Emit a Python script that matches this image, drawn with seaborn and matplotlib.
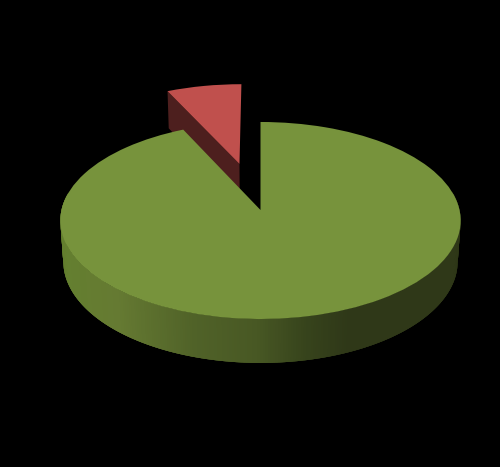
import numpy as np
import matplotlib
matplotlib.use("Agg")
import matplotlib.pyplot as plt
from matplotlib.transforms import Transform
from matplotlib.colors import to_rgb
import seaborn as sns

shares = [93, 7]
explode = [0, 0.51]
top_colors = ["#77933C", "#C0504D"]
cut_color = "#4D1F1E"
rim_positions = [-1.0, -0.66, -0.30, -0.02, 0.20, 0.40, 1.0]
rim_colors = ["#64802F", "#657A32", "#506228", "#485824", "#37441C", "#2F3818", "#2F3818"]

A, B, C, D, E = 97.4, 0.1066, 199.0, 41.5, 0.015


def project(x, y, z=0.0):
    w = 1 + B * y + E * z
    return C * x / w, (A * y - D * z) / w


class Perspective(Transform):
    input_dims = output_dims = 2
    is_separable = False
    has_inverse = False

    def transform_non_affine(self, values):
        values = np.asarray(values, dtype=float)
        px, py = project(values[:, 0], values[:, 1])
        return np.column_stack([px, py])


sns.set_theme(style="dark", rc={"figure.facecolor": "black", "axes.facecolor": "black"})
fig = plt.figure(figsize=(5.0, 4.67), dpi=100, facecolor="black")
ax = fig.add_axes([0, 0, 1, 1])

wedges, _ = ax.pie(shares, explode=explode, colors=top_colors,
                   startangle=90, counterclock=False, radius=1.0)
ax.set_aspect("auto")
ax.set_xlim(-260.5, 239.5)
ax.set_ylim(-257, 210)
ax.axis("off")

proj = Perspective()
for wedge in wedges:
    wedge.set_transform(proj + ax.transData)
    wedge.set_linewidth(0)
    wedge.set_clip_on(False)
wedges[0].set_zorder(5)
wedges[1].set_zorder(3)

# exploded slice: its visible cut face
red = wedges[1]
cx, cy = red.center
corner = np.deg2rad(90 + 360 * shares[1] / sum(shares))
ex, ey = cx + np.cos(corner), cy + np.sin(corner)
px, py = project(np.array([cx, ex, ex, cx]), np.array([cy, ey, ey, cy]),
                 np.array([0.0, 0.0, 1.0, 1.0]))
ax.fill(px, py, color=cut_color, lw=0, zorder=2)

# rim of the large slice: overlapping strips so no seams show
stops = np.array([to_rgb(c) for c in rim_colors])
angles = np.deg2rad(np.linspace(170, 370, 301))
step = angles[1] - angles[0]
for a0 in angles[:-1]:
    a1 = a0 + 3 * step
    qx = np.array([np.cos(a0), np.cos(a1), np.cos(a1), np.cos(a0)])
    qy = np.array([np.sin(a0), np.sin(a1), np.sin(a1), np.sin(a0)])
    qz = np.array([0.0, 0.0, 1.0, 1.0])
    fx, fy = project(qx, qy, qz)
    pos = np.cos(a0 + step / 2)
    col = [np.interp(pos, rim_positions, stops[:, i]) for i in range(3)]
    ax.fill(fx, fy, color=col, lw=0, zorder=4)

fig.savefig("out.png", dpi=100, facecolor="black")
